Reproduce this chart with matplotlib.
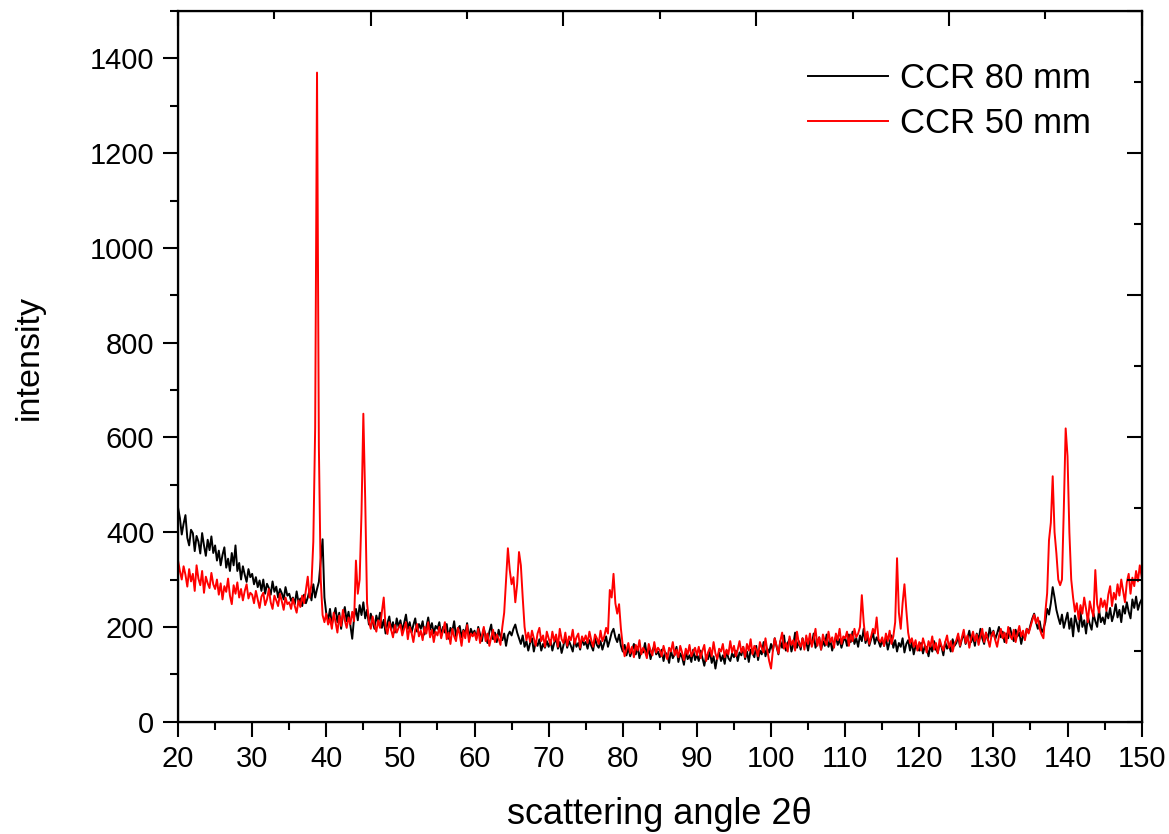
import matplotlib
matplotlib.use("Agg")
import matplotlib.pyplot as plt
from matplotlib.ticker import MultipleLocator, NullFormatter
import numpy as np

plt.rcParams['font.family'] = ['Liberation Sans', 'DejaVu Sans']

# scattering angle grid, 0.25 deg steps from 20 to 150
two_theta = np.arange(20.0, 150.001, 0.25)

# CCR 80 mm, one row per 5 degrees
ccr80 = [
    452, 430, 395, 418, 436, 388, 372, 405, 398, 360, 392, 380, 355, 398, 372, 350, 384, 362, 391, 356,
    372, 340, 361, 330, 352, 368, 325, 344, 318, 356, 330, 372, 318, 335, 300, 328, 310, 295, 322, 305,
    312, 290, 305, 284, 298, 276, 300, 270, 291, 282, 268, 296, 274, 285, 262, 280, 271, 258, 284, 266,
    270, 255, 262, 248, 275, 252, 260, 244, 268, 250, 262, 278, 256, 290, 262, 280, 295, 340, 385, 262,
    228, 214, 238, 205, 222, 240, 210, 230, 196, 225, 242, 212, 232, 204, 175, 220, 238, 214, 246, 225,
    252, 218, 236, 205, 228, 212, 196, 224, 208, 230, 198, 215, 186, 208, 222, 194, 210, 188, 218, 200,
    214, 192, 208, 226, 196, 210, 188, 204, 218, 190, 206, 196, 212, 184, 200, 220, 194, 208, 186, 202,
    196, 210, 182, 200, 188, 206, 175, 198, 190, 212, 180, 196, 202, 178, 194, 186, 208, 176, 196, 185,
    192, 176, 200, 184, 170, 196, 182, 166, 190, 205, 174, 188, 168, 194, 180, 172, 186, 160, 182, 190,
    182, 196, 205, 188, 176, 164, 182, 158, 170, 150, 166, 176, 148, 168, 160, 174, 150, 164, 156, 170,
    158, 172, 150, 166, 176, 154, 168, 145, 162, 178, 156, 170, 160, 148, 174, 158, 166, 152, 176, 162,
    168, 154, 172, 160, 150, 176, 162, 156, 170, 152, 166, 180, 158, 172, 188, 196, 178, 168, 184, 160,
    148, 162, 140, 156, 138, 150, 164, 142, 158, 134, 152, 146, 166, 140, 154, 132, 150, 160, 142, 148,
    136, 152, 128, 146, 140, 124, 150, 134, 142, 158, 126, 144, 136, 120, 148, 132, 140, 126, 152, 130,
    142, 128, 150, 134, 118, 140, 132, 148, 124, 138, 112, 136, 146, 128, 140, 122, 150, 134, 128, 144,
    136, 150, 128, 146, 140, 158, 132, 148, 126, 152, 144, 136, 160, 130, 150, 142, 168, 138, 154, 146,
    164, 150, 176, 158, 142, 170, 156, 182, 150, 166, 174, 148, 162, 188, 156, 170, 152, 176, 160, 168,
    150, 174, 162, 186, 156, 168, 178, 152, 170, 160, 184, 158, 172, 150, 166, 180, 162, 174, 156, 170,
    178, 160, 184, 168, 190, 164, 176, 158, 182, 170, 196, 166, 180, 160, 174, 188, 164, 178, 170, 158,
    172, 160, 178, 152, 168, 182, 156, 172, 148, 166, 158, 176, 146, 164, 172, 150, 168, 142, 160, 154,
    150, 166, 144, 160, 156, 138, 162, 148, 170, 152, 146, 164, 158, 140, 168, 154, 162, 148, 174, 160,
    166, 180, 158, 174, 186, 164, 176, 192, 168, 180, 160, 186, 172, 196, 176, 164, 188, 172, 198, 180,
    192, 174, 186, 200, 178, 190, 168, 186, 176, 198, 182, 170, 194, 180, 188, 164, 182, 176, 196, 188,
    204, 218, 228, 210, 196, 212, 188, 196, 210, 238, 226, 250, 284, 262, 236, 220, 206, 226, 198, 214,
    230, 196, 218, 180, 224, 208, 190, 232, 200, 214, 186, 222, 206, 194, 228, 212, 200, 236, 210, 220,
    206, 232, 218, 240, 212, 226, 248, 220, 236, 210, 244, 228, 252, 232, 218, 258, 240, 264, 236, 250,
    258,
]

# CCR 50 mm
ccr50 = [
    340, 318, 300, 328, 310, 285, 322, 296, 312, 276, 330, 302, 288, 318, 272, 306, 292, 282, 314, 290,
    280, 300, 268, 292, 258, 286, 274, 302, 266, 248, 288, 270, 294, 262, 280, 256, 276, 290, 260, 272,
    268, 250, 276, 258, 240, 264, 272, 246, 258, 280, 252, 238, 266, 256, 244, 270, 254, 236, 262, 248,
    252, 238, 260, 244, 230, 256, 242, 266, 250, 278, 306, 262, 290, 380, 620, 1370, 580, 300, 225, 210,
    228, 205, 218, 196, 230, 210, 188, 224, 202, 236, 214, 198, 220, 206, 232, 212, 340, 270, 300, 440,
    650, 470, 250, 212, 196, 222, 204, 190, 214, 198, 232, 262, 200, 185, 210, 194, 178, 204, 188, 198,
    205, 182, 196, 210, 174, 200, 188, 168, 194, 206, 180, 192, 172, 200, 186, 210, 178, 194, 168, 190,
    182, 200, 176, 192, 210, 174, 188, 164, 196, 180, 170, 198, 184, 160, 192, 176, 204, 168, 186, 180,
    188, 172, 196, 166, 182, 200, 170, 186, 160, 178, 194, 168, 184, 175, 162, 200, 230, 300, 366, 320,
    290, 305, 252, 290, 358, 330, 262, 200, 172, 188, 168, 192, 176, 160, 186, 198, 170, 182, 158, 190,
    176, 162, 190, 170, 184, 158, 196, 174, 166, 188, 160, 180, 172, 194, 164, 178, 186, 156, 180, 170,
    182, 166, 190, 172, 158, 184, 176, 164, 192, 170, 180, 198, 186, 278, 262, 312, 250, 228, 248, 196,
    160, 138, 152, 166, 144, 158, 136, 162, 150, 172, 142, 156, 148, 134, 164, 150, 140, 168, 146, 156,
    150, 138, 160, 144, 132, 156, 148, 168, 140, 152, 136, 160, 146, 130, 154, 142, 162, 138, 148, 156,
    140, 158, 134, 150, 162, 128, 146, 156, 138, 168, 144, 132, 154, 148, 164, 136, 152, 142, 170, 146,
    160, 138, 152, 170, 146, 158, 136, 164, 150, 174, 142, 160, 152, 138, 168, 156, 146, 176, 150, 128,
    112, 150, 176, 160, 144, 170, 188, 154, 166, 148, 180, 162, 172, 150, 190, 166, 158, 176, 152, 182,
    164, 186, 158, 174, 196, 160, 178, 152, 184, 170, 162, 190, 168, 178, 156, 186, 172, 196, 164, 180,
    176, 190, 160, 184, 170, 196, 178, 186, 200, 267, 210, 172, 190, 164, 180, 196, 186, 220, 174, 168,
    178, 160, 186, 170, 192, 164, 180, 210, 345, 230, 196, 250, 290, 236, 188, 166, 176, 158, 172, 150,
    168, 150, 176, 162, 146, 170, 158, 180, 152, 166, 144, 174, 160, 150, 168, 182, 156, 170, 148, 164,
    172, 186, 160, 178, 194, 166, 182, 156, 176, 190, 170, 184, 162, 180, 196, 168, 188, 174, 158, 182,
    190, 172, 158, 180, 196, 176, 188, 166, 200, 182, 174, 194, 168, 186, 202, 180, 192, 172, 196, 186,
    200, 214, 226, 208, 220, 196, 184, 176, 230, 271, 383, 420, 518, 400, 355, 300, 288, 300, 450, 619,
    560, 400, 300, 262, 232, 250, 216, 246, 228, 262, 238, 210, 254, 236, 222, 320, 248, 230, 260, 242,
    256, 234, 268, 286, 244, 272, 258, 290, 266, 300, 276, 252, 294, 312, 270, 304, 286, 318, 296, 330,
    306,
]

labels = ["CCR 80 mm", "CCR 50 mm"]

fig = plt.figure(figsize=(11.69, 8.34), dpi=100)
ax = fig.add_axes([0.1523, 0.1347, 0.8243, 0.8521])

ax.plot(two_theta, ccr80, color="black", lw=1.4, label=labels[0])
ax.plot(two_theta, ccr50, color="#ff0000", lw=1.4, label=labels[1])

ax.set_xlim(20, 150)
ax.set_ylim(0, 1500)
ax.xaxis.set_major_locator(MultipleLocator(10))
ax.xaxis.set_minor_locator(MultipleLocator(5))
ax.yaxis.set_major_locator(MultipleLocator(200))
ax.yaxis.set_minor_locator(MultipleLocator(100))
ax.set_yticks([0, 200, 400, 600, 800, 1000, 1200, 1400])
ax.tick_params(which="major", direction="out", length=11, width=1.5, labelsize=21, pad=6)
ax.tick_params(which="minor", direction="out", length=6, width=1.5)
for s in ax.spines.values():
    s.set_linewidth(1.6)

# Origin style top / right axes with their own tick spacing
top = ax.twiny()
top.set_xlim(0, 10)
top.xaxis.set_major_locator(MultipleLocator(2))
top.xaxis.set_minor_locator(MultipleLocator(1))
top.xaxis.set_major_formatter(NullFormatter())
top.tick_params(which="major", direction="in", length=11, width=1.5)
top.tick_params(which="minor", direction="in", length=6, width=1.5)

right = ax.twinx()
right.set_ylim(0, 1500)
right.yaxis.set_major_locator(MultipleLocator(300))
right.yaxis.set_minor_locator(MultipleLocator(150))
right.yaxis.set_major_formatter(NullFormatter())
right.tick_params(which="major", direction="in", length=11, width=1.5)
right.tick_params(which="minor", direction="in", length=6, width=1.5)

ax.set_xlabel("scattering angle 2θ", fontsize=26, labelpad=17)
ax.set_ylabel("intensity", fontsize=24.5)
ax.yaxis.set_label_coords(-0.138, 0.513)

ax.legend(loc="upper right", bbox_to_anchor=(0.98, 0.972), frameon=False,
          fontsize=25, handlelength=2.3, handletextpad=0.35, labelspacing=0.35)

fig.savefig("out.png", dpi=100)
